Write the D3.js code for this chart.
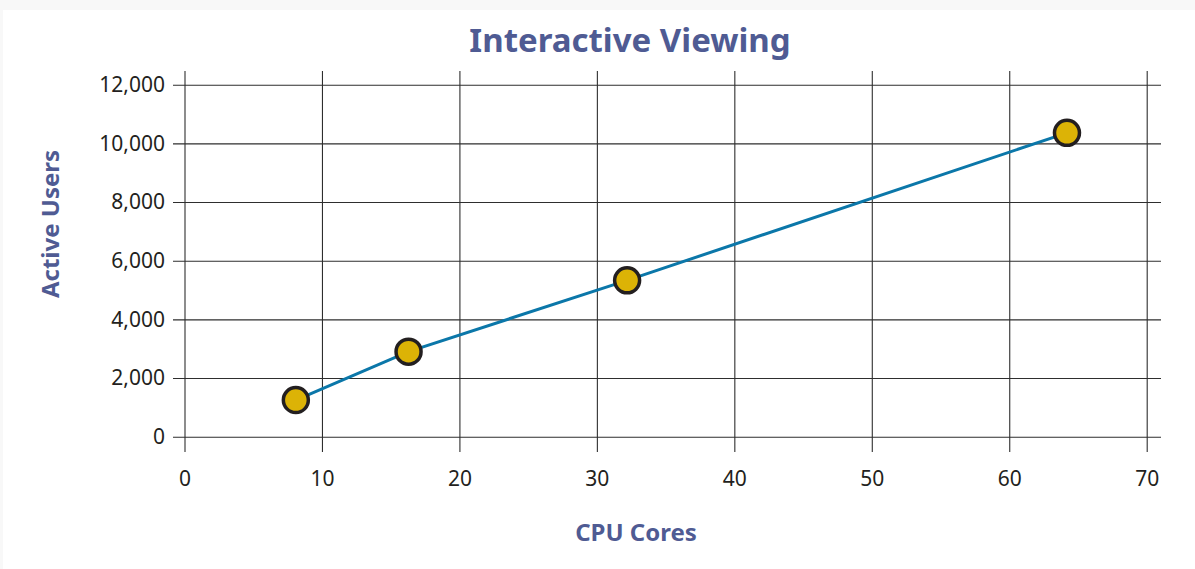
<!DOCTYPE html>
<html>
<head>
<meta charset="utf-8">
<script src="https://cdn.jsdelivr.net/npm/d3@7"></script>
<style>
  html, body { margin: 0; padding: 0; background: #fff; }
  svg { display: block; font-family: "Noto Sans", "Open Sans", sans-serif; }
</style>
</head>
<body>
<svg id="chart" width="1195" height="569"></svg>
<script>
// data
const cores = [8.1, 16.3, 32.2, 64.2];
const users = [1250, 2900, 5330, 10360];
const xTicks = [0, 10, 20, 30, 40, 50, 60, 70];
const yTicks = [0, 2000, 4000, 6000, 8000, 10000, 12000];

const titleColor = "#4f5b93";
const lineColor = "#0b77a9";
const dotFill = "#dcb306";
const dotStroke = "#231f20";
const gridColor = "#2e2e2e";

const svg = d3.select("#chart");

// faint frame like the original
svg.append("rect").attr("x", 0).attr("y", 0).attr("width", 1195).attr("height", 569).attr("fill", "#f8f8f8");
svg.append("rect").attr("x", 3).attr("y", 10).attr("width", 1192).attr("height", 559).attr("fill", "#fff");

// scales
const x = d3.scaleLinear().domain([0, 70]).range([184.5, 1146.7]);
const y = d3.scaleLinear().domain([0, 12000]).range([436.7, 84.7]);

const plotTop = 71, plotBottom = 452, gridLeft = 173, gridRight = 1161;

// vertical grid + x labels
const xG = svg.append("g").attr("transform", `translate(0,${plotBottom})`)
  .call(d3.axisBottom(x).tickValues(xTicks).tickSize(-(plotBottom - plotTop)).tickPadding(19).tickFormat(d3.format("d")));
xG.select(".domain").remove();
xG.selectAll("line").attr("stroke", gridColor).attr("stroke-width", 1.1);
xG.selectAll("text").attr("font-size", "21px").attr("fill", "#231f20").attr("font-family", "Noto Sans");

// horizontal grid + y labels
const yG = svg.append("g").attr("transform", `translate(${gridRight},0)`)
  .call(d3.axisLeft(y).tickValues(yTicks).tickSize(gridRight - gridLeft).tickPadding(8).tickFormat(d3.format(",")));
yG.select(".domain").remove();
yG.selectAll("line").attr("stroke", gridColor).attr("stroke-width", 1.1);
yG.selectAll("text").attr("font-size", "21px").attr("fill", "#231f20").attr("font-family", "Noto Sans");

// series
const pts = cores.map((c, i) => ({x: c, y: users[i]}));

svg.append("path")
  .datum(pts)
  .attr("fill", "none")
  .attr("stroke", lineColor)
  .attr("stroke-width", 3)
  .attr("d", d3.line().x(d => x(d.x)).y(d => y(d.y)));

svg.selectAll(".dot").data(pts).join("circle")
  .attr("class", "dot")
  .attr("cx", d => x(d.x))
  .attr("cy", d => y(d.y))
  .attr("r", 12.5)
  .attr("fill", dotFill)
  .attr("stroke", dotStroke)
  .attr("stroke-width", 3.5);

// titles
svg.append("text")
  .attr("x", 630).attr("y", 52)
  .attr("text-anchor", "middle")
  .attr("font-size", "33px").attr("font-weight", "700")
  .attr("fill", titleColor)
  .text("Interactive Viewing");

svg.append("text")
  .attr("transform", "translate(59,224) rotate(-90)")
  .attr("text-anchor", "middle")
  .attr("font-size", "24px").attr("font-weight", "700")
  .attr("fill", titleColor)
  .text("Active Users");

svg.append("text")
  .attr("x", 636).attr("y", 541)
  .attr("text-anchor", "middle")
  .attr("font-size", "24px").attr("font-weight", "700")
  .attr("fill", titleColor)
  .text("CPU Cores");
</script>
</body>
</html>
